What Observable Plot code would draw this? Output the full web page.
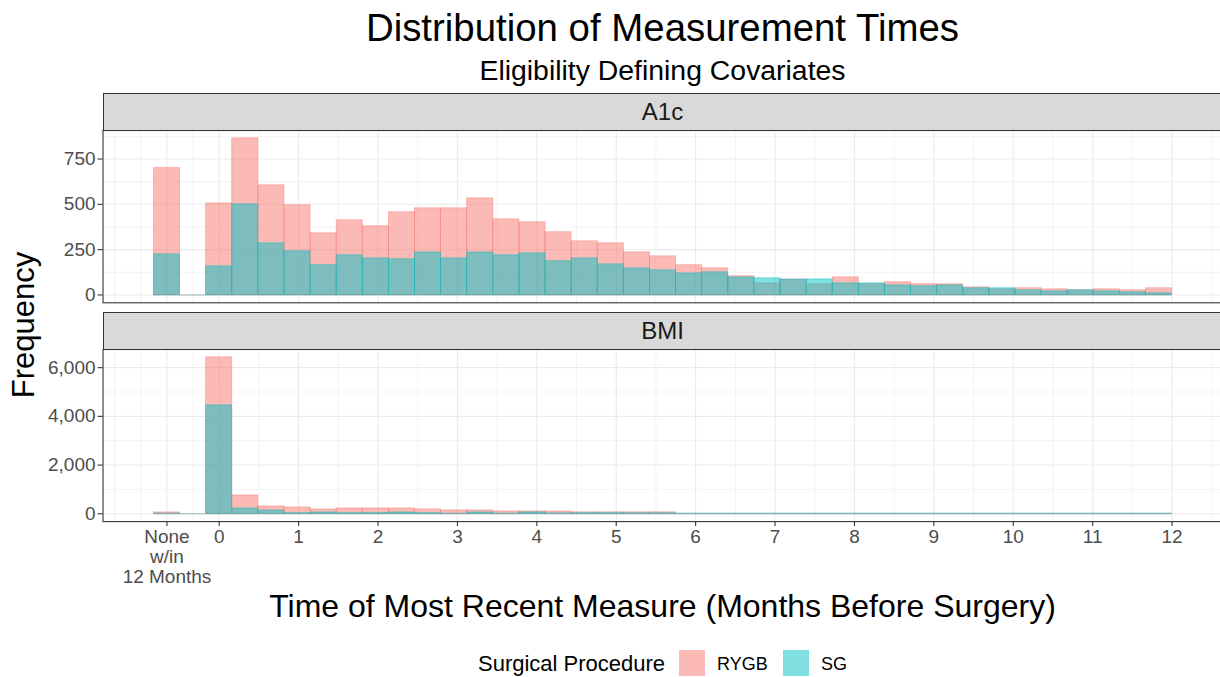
<!DOCTYPE html>
<html>
<head>
<meta charset="utf-8">
<script src="https://cdn.jsdelivr.net/npm/d3@7"></script>
<script src="https://cdn.jsdelivr.net/npm/@observablehq/plot@0.6"></script>
<style>
  html, body { margin: 0; padding: 0; background: #ffffff; overflow: hidden; }
  #root { position: relative; width: 1220px; height: 677px; overflow: hidden; font-family: "Liberation Sans", Arial, sans-serif; }
  #root svg { max-width: none !important; }
  .strip { position: absolute; left: 102.5px; width: 1130px; box-sizing: border-box; background: #D9D9D9; border: 1.1px solid #333333; }
</style>
</head>
<body>
<div id="root"></div>
<script>
// ---------------- data ----------------
const DAYS_PER_MONTH = 365 / 12;
const BIN_WIDTH_DAYS = 10;
const NONE_DAY = -20; // "None w/in 12 Months" bin

const BIN_DAYS = [-20, -10, 0, 10, 20, 30, 40, 50, 60, 70, 80, 90, 100, 110, 120, 130, 140, 150, 160, 170,
  180, 190, 200, 210, 220, 230, 240, 250, 260, 270, 280, 290, 300, 310, 320, 330, 340, 350, 360];

const A1C_RYGB = [700, 0, 505, 864, 605, 495, 340, 412, 379, 456, 478, 478, 533, 417, 401, 346, 296, 285, 235, 213,
  164, 147, 103, 64, 85, 59, 97, 60, 70, 59, 59, 42, 31, 37, 31, 26, 31, 26, 37];
const A1C_SG = [224, 0, 158, 500, 285, 241, 164, 219, 202, 197, 235, 202, 235, 219, 230, 186, 202, 169, 147, 136,
  119, 125, 97, 92, 85, 86, 64, 64, 53, 48, 53, 37, 37, 26, 20, 26, 20, 15, 9];

const BMI_RYGB = [55, 0, 6425, 753, 301, 260, 178, 219, 219, 219, 178, 137, 137, 96, 96, 96, 60, 60, 60, 60,
  3, 3, 3, 3, 3, 3, 3, 3, 3, 3, 3, 3, 3, 3, 3, 3, 3, 3, 3];
const BMI_SG = [5, 0, 4452, 219, 137, 25, 55, 27, 27, 55, 27, 5, 55, 10, 55, 15, 25, 25, 20, 20,
  5, 5, 5, 5, 5, 5, 5, 5, 5, 5, 5, 5, 5, 5, 5, 5, 5, 5, 5];

const GROUPS = ["RYGB", "SG"];
const GROUP_COLORS = ["#F8766D", "#00BFC4"];

const X_TICKS_MONTHS = [NONE_DAY / DAYS_PER_MONTH, 0, 1, 2, 3, 4, 5, 6, 7, 8, 9, 10, 11, 12];
const X_TICK_LABELS = ["None\nw/in\n12 Months", "0", "1", "2", "3", "4", "5", "6", "7", "8", "9", "10", "11", "12"];

const A1C_Y_TICKS = [0, 250, 500, 750];
const BMI_Y_TICKS = [0, 2000, 4000, 6000];

const FACETS = ["A1c", "BMI"];

// ---------------- helpers ----------------
function rows(rygb, sg) {
  const out = [];
  BIN_DAYS.forEach((d, i) => out.push({day: d, group: "RYGB", n: rygb[i]}));
  BIN_DAYS.forEach((d, i) => out.push({day: d, group: "SG", n: sg[i]}));
  return out;
}
function minorBreaks(b, lo, hi) {
  const ext = [b[0] - (b[1] - b[0]), ...b, b[b.length - 1] + (b[b.length - 1] - b[b.length - 2])];
  const m = [];
  for (let i = 0; i < ext.length; i++) {
    if (!b.includes(ext[i])) m.push(ext[i]);
    if (i < ext.length - 1) m.push((ext[i] + ext[i + 1]) / 2);
  }
  return m.filter(v => v > lo && v < hi);
}

const xMin = (BIN_DAYS[0] - BIN_WIDTH_DAYS / 2) / DAYS_PER_MONTH;
const xMax = (BIN_DAYS[BIN_DAYS.length - 1] + BIN_WIDTH_DAYS / 2) / DAYS_PER_MONTH;
const xPad = 0.05 * (xMax - xMin);
const X_DOMAIN = [xMin - xPad, xMax + xPad];
const X_MINOR = minorBreaks(X_TICKS_MONTHS, X_DOMAIN[0], X_DOMAIN[1]);

const FONT = "'Liberation Sans', Arial, sans-serif";

function panel({data, yTicks, yFormat, showX, height, marginBottom}) {
  const yMax = d3.max(data, d => d.n);
  const yDomain = [-0.05 * yMax, 1.05 * yMax];
  const yMinor = minorBreaks(yTicks, yDomain[0], yDomain[1]);
  const x1 = d => (d.day - BIN_WIDTH_DAYS / 2) / DAYS_PER_MONTH;
  const x2 = d => (d.day + BIN_WIDTH_DAYS / 2) / DAYS_PER_MONTH;
  const marks = [
    Plot.ruleX(X_MINOR, {stroke: "#EBEBEB", strokeWidth: 0.6}),
    Plot.ruleY(yMinor, {stroke: "#EBEBEB", strokeWidth: 0.6}),
    Plot.ruleX(X_TICKS_MONTHS, {stroke: "#EBEBEB", strokeWidth: 1.1}),
    Plot.ruleY(yTicks, {stroke: "#EBEBEB", strokeWidth: 1.1}),
    Plot.rect(data, {x1, x2, y1: 0, y2: "n", fill: "group", fillOpacity: 0.5,
      stroke: "group", strokeOpacity: 0.5, strokeWidth: 0.8}),
    Plot.ruleY(data, {x1, x2, y: 0, stroke: "group", strokeOpacity: 0.5, strokeWidth: 0.8}),
    Plot.axisY({ticks: yTicks, tickFormat: yFormat, tickSize: 5, tickPadding: 2.5,
      fontSize: 19, fill: "#4D4D4D", stroke: "#333333", strokeWidth: 1.1, label: null}),
    Plot.frame({stroke: "#333333", strokeWidth: 1.1})
  ];
  if (showX) {
    marks.push(Plot.axisX({ticks: X_TICKS_MONTHS,
      tickFormat: d => X_TICK_LABELS[X_TICKS_MONTHS.indexOf(d)],
      tickSize: 5, tickPadding: 2.5, fontSize: 19, lineHeight: 1.05,
      fill: "#4D4D4D", stroke: "#333333", strokeWidth: 1.1, label: null}));
  }
  const svg = Plot.plot({
    width: 1230,
    height,
    marginLeft: 102.5,
    marginRight: 7.5,
    marginTop: 5,
    marginBottom,
    style: {fontFamily: FONT, background: "transparent", overflow: "visible", maxWidth: "none"},
    x: {domain: X_DOMAIN, axis: null},
    y: {domain: yDomain, axis: null},
    color: {domain: GROUPS, range: GROUP_COLORS},
    marks
  });
  svg.style.maxWidth = "none";
  svg.style.width = "1230px";
  svg.style.height = height + "px";
  return svg;
}

// ---------------- layout ----------------
const root = document.getElementById("root");

const p1 = panel({data: rows(A1C_RYGB, A1C_SG), yTicks: A1C_Y_TICKS, yFormat: d3.format(","),
  showX: false, height: 177.3, marginBottom: 0});
p1.style.position = "absolute"; p1.style.left = "0px"; p1.style.top = "125px";
root.appendChild(p1);

const p2 = panel({data: rows(BMI_RYGB, BMI_SG), yTicks: BMI_Y_TICKS, yFormat: d3.format(","),
  showX: true, height: 252.1, marginBottom: 75});
p2.style.position = "absolute"; p2.style.left = "0px"; p2.style.top = "344px";
root.appendChild(p2);

// strips
[[FACETS[0], 93], [FACETS[1], 312]].forEach(([label, top]) => {
  const s = document.createElement("div");
  s.className = "strip";
  s.style.top = top + "px";
  s.style.height = "37.5px";
  root.appendChild(s);
});

// text overlay (titles, strip labels, axis titles, legend)
const ns = "http://www.w3.org/2000/svg";
const ov = document.createElementNS(ns, "svg");
ov.setAttribute("width", 1220); ov.setAttribute("height", 677);
ov.style.position = "absolute"; ov.style.left = "0px"; ov.style.top = "0px";
ov.style.fontFamily = FONT;
root.appendChild(ov);
function txt(s, x, y, size, opts = {}) {
  const t = document.createElementNS(ns, "text");
  t.textContent = s;
  t.setAttribute("x", x); t.setAttribute("y", y);
  t.setAttribute("font-size", size);
  t.setAttribute("fill", opts.fill || "#000000");
  t.setAttribute("text-anchor", opts.anchor || "middle");
  if (opts.transform) t.setAttribute("transform", opts.transform);
  ov.appendChild(t);
  return t;
}
const cx = 662.5;
txt("Distribution of Measurement Times", cx, 41, 38.4);
txt("Eligibility Defining Covariates", cx, 80, 28.4);
txt(FACETS[0], cx, 120.3, 24, {fill: "#1A1A1A"});
txt(FACETS[1], cx, 339.3, 24, {fill: "#1A1A1A"});
txt("Time of Most Recent Measure (Months Before Surgery)", cx, 617, 32);
txt("Frequency", 0, 0, 31, {transform: "translate(34,325) rotate(-90)"});

// legend
txt("Surgical Procedure", 478, 671, 22, {anchor: "start"});
const legendX = [679, 783];
const legendTextX = [717, 821];
GROUPS.forEach((g, i) => {
  const r = document.createElementNS(ns, "rect");
  r.setAttribute("x", legendX[i]); r.setAttribute("y", 650);
  r.setAttribute("width", 26); r.setAttribute("height", 26);
  r.setAttribute("fill", GROUP_COLORS[i]); r.setAttribute("fill-opacity", 0.5);
  ov.appendChild(r);
  txt(g, legendTextX[i], 669.5, 18, {anchor: "start"});
});
</script>
</body>
</html>
